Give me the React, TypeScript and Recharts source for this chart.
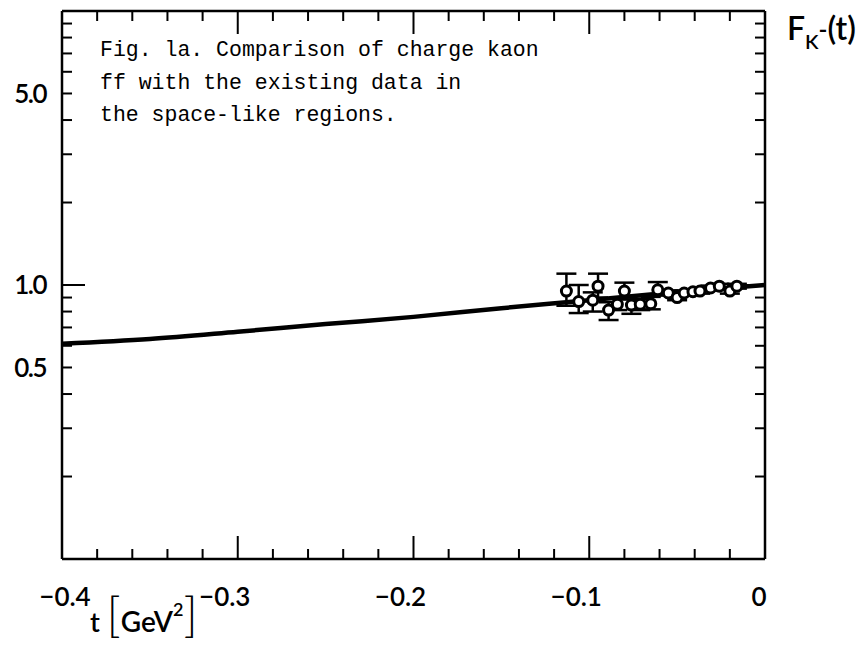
import React from 'react';
import { ComposedChart, Line, Scatter, ErrorBar, XAxis, YAxis } from 'recharts';

// t axis [GeV^2]
const tTicks = [-0.4, -0.38, -0.36, -0.34, -0.32, -0.3, -0.28, -0.26, -0.24, -0.22, -0.2, -0.18, -0.16, -0.14, -0.12, -0.1, -0.08, -0.06, -0.04, -0.02, 0];
const tMajor = [-0.3, -0.2, -0.1];
const tLabels = [-0.4, -0.3, -0.2, -0.1, 0];

// F_K(t) axis, log
const fTicks = [0.1, 0.2, 0.3, 0.4, 0.5, 0.6, 0.7, 0.8, 0.9, 1, 2, 3, 4, 5, 6, 7, 8, 9, 10];
const fMajor = [1];
const fLabels = [0.5, 1, 5];

// model curve
const curveT = [-0.4, -0.35, -0.3, -0.25, -0.2, -0.15, -0.1, -0.05, 0];
const curveF = [0.61, 0.635, 0.675, 0.72, 0.765, 0.823, 0.88, 0.943, 1.0];

// measured points
const pointT = [-0.113, -0.106, -0.098, -0.095, -0.089, -0.084, -0.08, -0.076, -0.071, -0.065, -0.061, -0.055, -0.05, -0.046, -0.041, -0.037, -0.031, -0.026, -0.02, -0.016];
const pointF = [0.95, 0.87, 0.88, 0.99, 0.81, 0.85, 0.95, 0.845, 0.85, 0.855, 0.96, 0.935, 0.9, 0.935, 0.945, 0.95, 0.975, 0.99, 0.95, 0.99];
const errLow = [0.11, 0.08, 0.08, 0.09, 0.065, 0.04, 0.05, 0.06, 0.04, 0.04, 0.04, 0.02, 0.02, 0.02, 0.02, 0.02, 0.02, 0.02, 0.02, 0.02];
const errHigh = [0.15, 0.13, 0.06, 0.11, 0.055, 0.04, 0.07, 0.04, 0.04, 0.05, 0.065, 0.02, 0.02, 0.02, 0.02, 0.02, 0.02, 0.02, 0.02, 0.02];

const curveData = curveT.map((t, i) => ({ t, f: curveF[i] }));
const pointData = pointT.map((t, i) => ({ t, f: pointF[i], err: [errLow[i], errHigh[i]] }));

const has = (arr: number[], v: number) => arr.some((a) => Math.abs(a - v) < 1e-9);
const labelFont = 'Lato, "Open Sans", sans-serif';

const BottomTick = ({ x, y, payload }: any) => {
  const v = payload.value;
  const len = has(tMajor, v) ? 23 : 10;
  // minus sign hangs left of the tick; the edge label sits inside
  const dx = v === tTicks[0] ? 3 : v === 0 ? -6 : -13;
  return (
    <g>
      <line x1={x} y1={y} x2={x} y2={y - len} stroke="#000" strokeWidth={2} />
      {has(tLabels, v) && (
        <text x={x + dx} y={y + 47} textAnchor="middle" fontFamily={labelFont} fontSize={26} fontWeight={600} fill="#000">
          {String(v).replace('-', '\u2212')}
        </text>
      )}
    </g>
  );
};

const TopTick = ({ x, y, payload }: any) => {
  const len = has(tMajor, payload.value) ? 23 : 10;
  return <line x1={x} y1={y} x2={x} y2={y + len} stroke="#000" strokeWidth={2} />;
};

const LeftTick = ({ x, y, payload }: any) => {
  const v = payload.value;
  const len = has(fMajor, v) ? 23 : 10;
  return (
    <g>
      <line x1={x} y1={y} x2={x + len} y2={y} stroke="#000" strokeWidth={2} />
      {has(fLabels, v) && (
        <text x={x - 16} y={y} dy="0.36em" textAnchor="end" fontFamily={labelFont} fontSize={26} fontWeight={600} letterSpacing={-1.5} fill="#000">
          {v.toFixed(1)}
        </text>
      )}
    </g>
  );
};

const RightTick = ({ x, y, payload }: any) => {
  const len = has(fMajor, payload.value) ? 23 : 10;
  return <line x1={x} y1={y} x2={x - len} y2={y} stroke="#000" strokeWidth={2} />;
};

const OpenCircle = ({ cx, cy }: any) => (
  <circle cx={cx} cy={cy} r={5} fill="#fff" stroke="#000" strokeWidth={3} />
);

const axisLine = { stroke: '#000', strokeWidth: 2.5 };

export default function App() {
  return (
    <div style={{ position: 'absolute', left: 0, top: 0, width: 859, height: 645, background: '#fff' }}>
      <ComposedChart width={859} height={645} margin={{ top: 10, right: 93, bottom: 85, left: 61 }}>
        <XAxis xAxisId="b" dataKey="t" type="number" domain={[-0.4, 0]} ticks={tTicks} interval={0}
          height={1} tickSize={0} tickMargin={0} tickLine={false} axisLine={axisLine} tick={BottomTick} allowDataOverflow />
        <XAxis xAxisId="tp" orientation="top" dataKey="t" type="number" domain={[-0.4, 0]} ticks={tTicks} interval={0}
          height={1} tickSize={0} tickMargin={0} tickLine={false} axisLine={axisLine} tick={TopTick} allowDataOverflow />
        <YAxis yAxisId="l" dataKey="f" type="number" scale="log" domain={[0.1, 10]} ticks={fTicks} interval={0}
          width={1} tickSize={0} tickMargin={0} tickLine={false} axisLine={axisLine} tick={LeftTick} allowDataOverflow />
        <YAxis yAxisId="r" orientation="right" dataKey="f" type="number" scale="log" domain={[0.1, 10]} ticks={fTicks} interval={0}
          width={1} tickSize={0} tickMargin={0} tickLine={false} axisLine={axisLine} tick={RightTick} allowDataOverflow />
        <Line xAxisId="b" yAxisId="l" data={curveData} dataKey="f" type="monotone" stroke="#000" strokeWidth={4.5}
          dot={false} activeDot={false} isAnimationActive={false} />
        <Scatter xAxisId="b" yAxisId="l" data={pointData} dataKey="f" shape={OpenCircle} isAnimationActive={false}>
          <ErrorBar dataKey="err" direction="y" width={10} stroke="#000" strokeWidth={2.5} isAnimationActive={false} />
        </Scatter>
        <Scatter xAxisId="tp" yAxisId="r" data={pointData} dataKey="f" shape={() => null} isAnimationActive={false} />
      </ComposedChart>

      <div style={{ position: 'absolute', left: 100, top: 34, fontFamily: '"Liberation Mono", "DejaVu Sans Mono", monospace', fontSize: 21.5, lineHeight: '32.5px', whiteSpace: 'pre', color: '#000' }}>
        {'Fig. la. Comparison of charge kaon\nff with the existing data in\nthe space-like regions.'}
      </div>

      <div style={{ position: 'absolute', left: 90, top: 590, fontFamily: labelFont, color: '#000', whiteSpace: 'nowrap', lineHeight: 1 }}>
        <span style={{ fontSize: 27, fontWeight: 600 }}>t </span>
        <span style={{ fontSize: 48, fontWeight: 300 }}>[</span>
        <span style={{ fontSize: 28, fontWeight: 600 }}>GeV</span>
        <span style={{ fontSize: 18, fontWeight: 600, position: 'relative', top: -16 }}>2</span>
        <span style={{ fontSize: 48, fontWeight: 300 }}>]</span>
      </div>

      <div style={{ position: 'absolute', left: 787, top: 12, fontFamily: labelFont, color: '#000', whiteSpace: 'nowrap', lineHeight: 1 }}>
        <span style={{ fontSize: 32, fontWeight: 600 }}>F</span>
        <span style={{ fontSize: 20, fontWeight: 600, position: 'relative', top: 9 }}>K</span>
        <span style={{ fontSize: 24, fontWeight: 600, position: 'relative', top: -2 }}>-</span>
        <span style={{ fontSize: 32, fontWeight: 600 }}>(t)</span>
      </div>
    </div>
  );
}
